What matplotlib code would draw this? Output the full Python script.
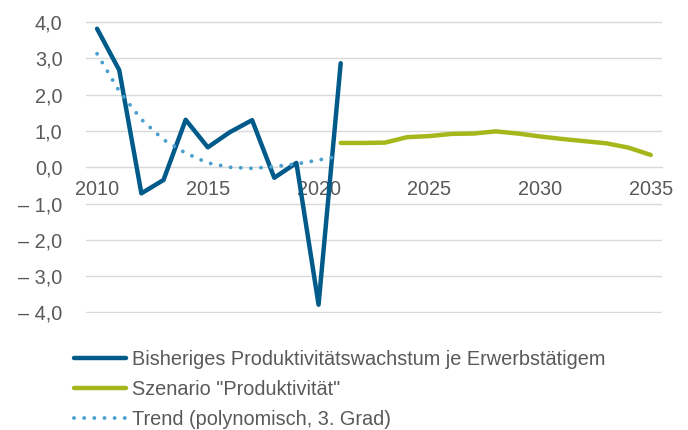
import matplotlib.pyplot as plt
from matplotlib.ticker import FuncFormatter

plt.rcParams['font.family'] = ['Liberation Sans', 'DejaVu Sans']

years_hist = [2010, 2011, 2012, 2013, 2014, 2015, 2016, 2017, 2018, 2019, 2020, 2021]
growth_hist = [3.82, 2.68, -0.72, -0.35, 1.31, 0.55, 0.97, 1.30, -0.29, 0.12, -3.79, 2.87]

years_scen = [2021, 2022, 2023, 2024, 2025, 2026, 2027, 2028, 2029, 2030, 2031, 2032, 2033, 2034, 2035]
growth_scen = [0.67, 0.67, 0.68, 0.83, 0.86, 0.92, 0.93, 0.99, 0.93, 0.85, 0.78, 0.72, 0.66, 0.54, 0.34]

years_trend = [2010, 2011, 2012, 2013, 2014, 2015, 2016, 2017, 2018, 2019, 2020, 2020.6]
trend = [3.13, 2.10, 1.32, 0.76, 0.39, 0.12, 0.00, -0.03, 0.02, 0.09, 0.20, 0.27]

labels = ['Bisheriges Produktivitätswachstum je Erwerbstätigem',
          'Szenario "Produktivität"',
          'Trend (polynomisch, 3. Grad)']

grey = '#595959'
grid_col = '#d9d9d9'
fs = 14.3

fig = plt.figure(figsize=(6.88, 4.30), dpi=100)
ax = fig.add_axes([0.125, 0.272, 0.837, 0.678])

l1, = ax.plot(years_hist, growth_hist, color='#005b8a', lw=3.2, solid_capstyle='round', zorder=3)
l2, = ax.plot(years_scen, growth_scen, color='#a6b71c', lw=3.2, solid_capstyle='round', zorder=3)
l3, = ax.plot(years_trend, trend, color='#4b9fcf', lw=2.8, linestyle=(0, (0.01, 2.6)),
              dash_capstyle='round', zorder=3)

ax.set_xlim(2009.5, 2035.5)
ax.set_ylim(-4.02, 4.02)
ax.set_yticks(range(-4, 5))
ax.set_xticks([2010, 2015, 2020, 2025, 2030, 2035])
ax.yaxis.set_major_formatter(FuncFormatter(
    lambda v, p: ('– ' if v < 0 else '') + f'{abs(v):.1f}'.replace('.', ',')))
ax.grid(axis='y', color=grid_col, lw=1)
ax.set_axisbelow(True)

for s in ['top', 'right', 'left']:
    ax.spines[s].set_visible(False)
ax.spines['bottom'].set_position(('data', 0))
ax.spines['bottom'].set_color(grid_col)
ax.tick_params(axis='both', length=0, labelsize=fs, colors=grey)
ax.tick_params(axis='x', pad=9)
ax.tick_params(axis='y', pad=17)

fig.legend([l1, l2, l3], labels, loc='upper left', bbox_to_anchor=(0.096, 0.204),
           frameon=False, fontsize=fs, labelcolor=grey, handlelength=2.6,
           handletextpad=0.3, labelspacing=0.55, borderaxespad=0)

fig.savefig('out.png', dpi=100)
